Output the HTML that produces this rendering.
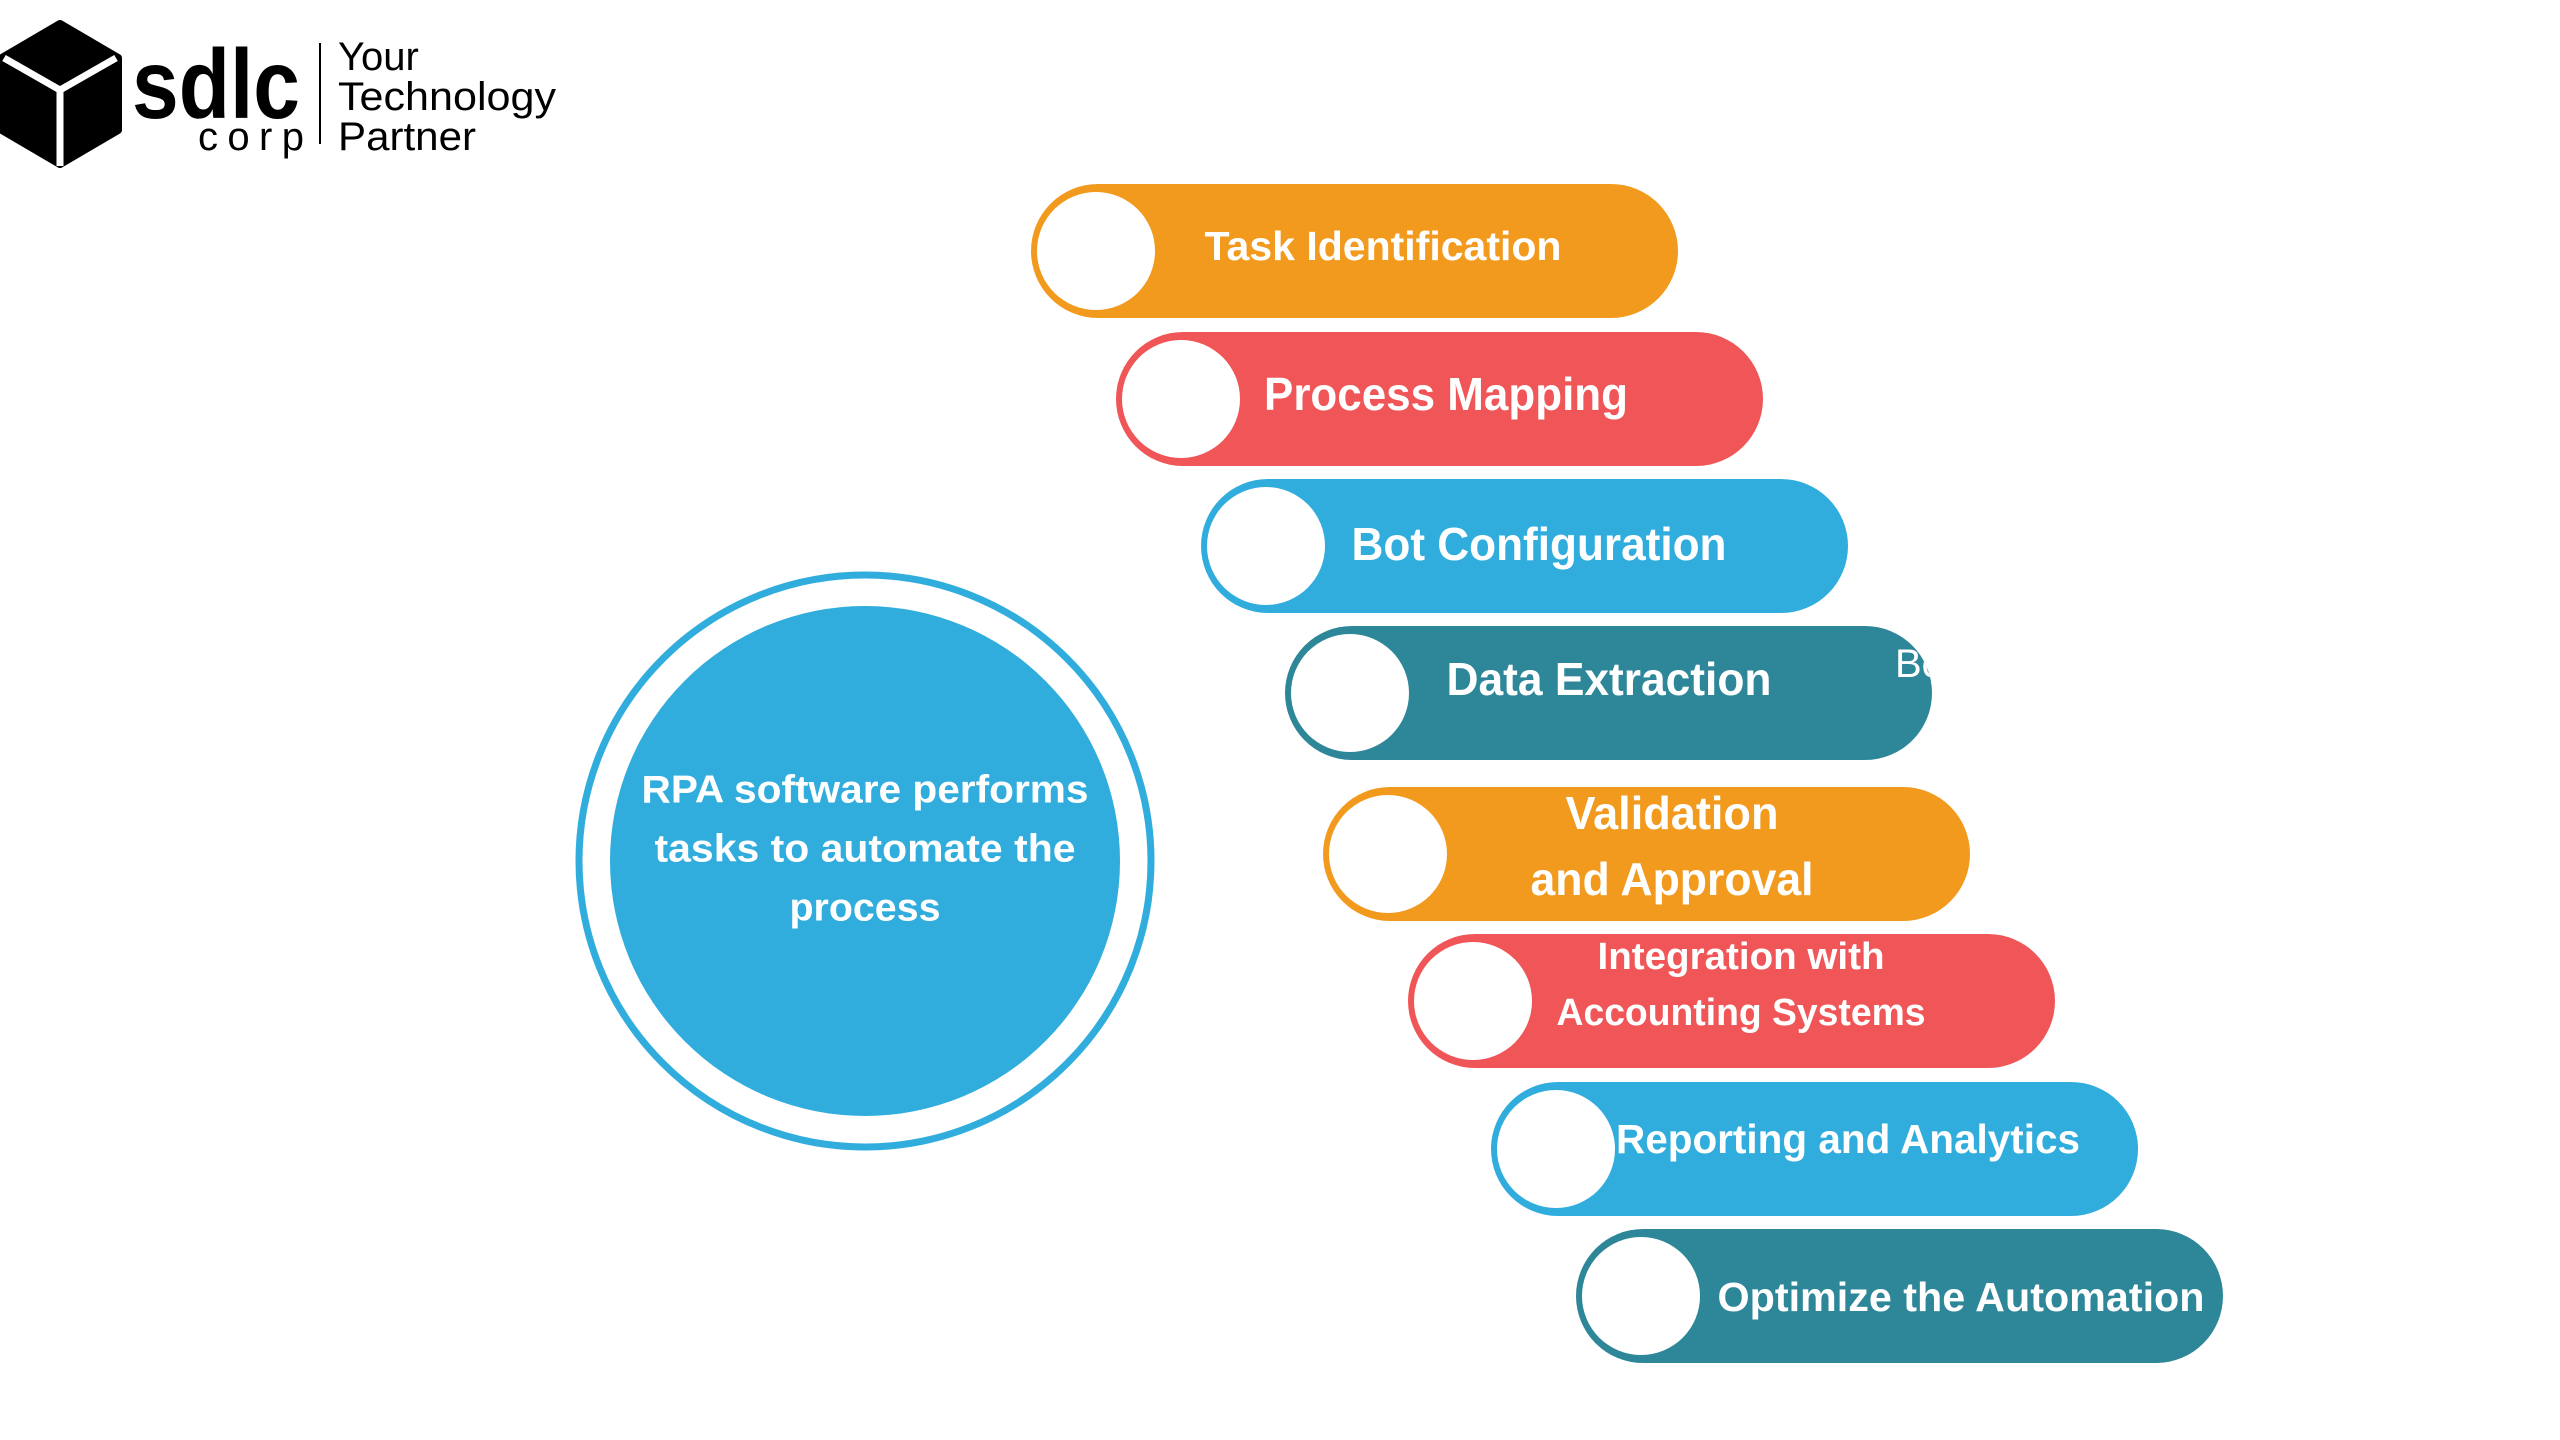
<!DOCTYPE html>
<html><head><meta charset="utf-8"><style>html,body{margin:0;padding:0;background:#fff}svg{display:block}</style></head>
<body>
<svg width="2560" height="1440" viewBox="0 0 2560 1440" xmlns="http://www.w3.org/2000/svg" font-family="'Liberation Sans', sans-serif">
<rect width="2560" height="1440" fill="#fff"/>
<defs><clipPath id="c4"><rect x="1290" y="629" width="647" height="134" rx="67"/></clipPath></defs>
<!-- logo -->
<polygon points="60,24 118,58 118,130 60,164 2,130 2,58" fill="#000" stroke="#000" stroke-width="8" stroke-linejoin="round"/>
<path d="M4,58 L60,90 L116,58 M60,90 L60,166" stroke="#fff" stroke-width="7" fill="none"/>
<text x="132" y="118" font-size="98" font-weight="bold" textLength="168" lengthAdjust="spacingAndGlyphs" fill="#000">sdlc</text>
<text x="198" y="150" font-size="40" fill="#000" textLength="106" lengthAdjust="spacing">corp</text>
<line x1="320" y1="43" x2="320" y2="144" stroke="#000" stroke-width="2"/>
<text x="338" y="70" font-size="40" fill="#000">Your</text>
<text x="338" y="110" font-size="40" fill="#000" textLength="218" lengthAdjust="spacingAndGlyphs">Technology</text>
<text x="338" y="150" font-size="40" fill="#000" textLength="138" lengthAdjust="spacingAndGlyphs">Partner</text>

<g transform="translate(-5,-3)">
<!-- big circle -->
<circle cx="870" cy="864" r="286" fill="none" stroke="#31ADDD" stroke-width="7"/>
<circle cx="870" cy="864" r="255" fill="#31ADDD"/>
<g fill="#fff" font-weight="bold" font-size="39" text-anchor="middle" dominant-baseline="central">
<text x="870" y="793" textLength="447" lengthAdjust="spacingAndGlyphs">RPA software performs</text>
<text x="870" y="852" textLength="421" lengthAdjust="spacingAndGlyphs">tasks to automate the</text>
<text x="870" y="911" textLength="151" lengthAdjust="spacingAndGlyphs">process</text>
</g>

<!-- pills -->
<g>
<rect x="1036" y="187" width="647" height="134" rx="67" fill="#F29A1E"/>
<circle cx="1101" cy="254" r="59" fill="#fff"/>
<rect x="1121" y="335" width="647" height="134" rx="67" fill="#F05658"/>
<circle cx="1186" cy="402" r="59" fill="#fff"/>
<rect x="1206" y="482" width="647" height="134" rx="67" fill="#31ADDD"/>
<circle cx="1271" cy="549" r="59" fill="#fff"/>
<rect x="1290" y="629" width="647" height="134" rx="67" fill="#2E8799"/>
<circle cx="1355" cy="696" r="59" fill="#fff"/>
<rect x="1328" y="790" width="647" height="134" rx="67" fill="#F29A1E"/>
<circle cx="1393" cy="857" r="59" fill="#fff"/>
<rect x="1413" y="937" width="647" height="134" rx="67" fill="#F05658"/>
<circle cx="1478" cy="1004" r="59" fill="#fff"/>
<rect x="1496" y="1085" width="647" height="134" rx="67" fill="#31ADDD"/>
<circle cx="1561" cy="1152" r="59" fill="#fff"/>
<rect x="1581" y="1232" width="647" height="134" rx="67" fill="#2E8799"/>
<circle cx="1646" cy="1299" r="59" fill="#fff"/>
</g>
<g fill="#fff" font-weight="bold" text-anchor="middle" dominant-baseline="central">
<text x="1388" y="249" font-size="41" textLength="357" lengthAdjust="spacingAndGlyphs">Task Identification</text>
<text x="1451" y="397" font-size="46" textLength="364" lengthAdjust="spacingAndGlyphs">Process Mapping</text>
<text x="1544" y="547" font-size="46" textLength="375" lengthAdjust="spacingAndGlyphs">Bot Configuration</text>
<text x="1614" y="682" font-size="46" textLength="325" lengthAdjust="spacingAndGlyphs">Data Extraction</text>
<text x="1677" y="816" font-size="46" textLength="213" lengthAdjust="spacingAndGlyphs">Validation</text>
<text x="1677" y="882" font-size="46" textLength="283" lengthAdjust="spacingAndGlyphs">and Approval</text>
<text x="1746" y="960" font-size="38" textLength="287" lengthAdjust="spacingAndGlyphs">Integration with</text>
<text x="1746" y="1016" font-size="38" textLength="369" lengthAdjust="spacingAndGlyphs">Accounting Systems</text>
<text x="1853" y="1142" font-size="41" textLength="464" lengthAdjust="spacingAndGlyphs">Reporting and Analytics</text>
<text x="1966" y="1300" font-size="41" textLength="487" lengthAdjust="spacingAndGlyphs">Optimize the Automation</text>
</g>
<text x="1900" y="680" font-size="40" fill="#fff" clip-path="url(#c4)">Bo</text>
</g>
</svg>
</body></html>
